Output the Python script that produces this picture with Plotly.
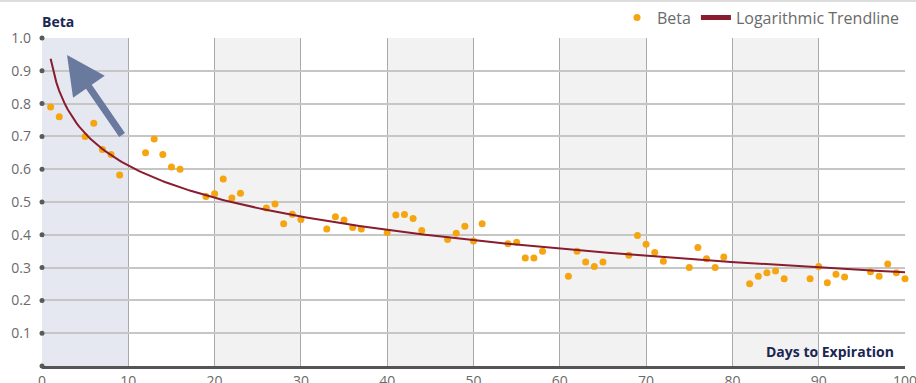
import numpy as np
import plotly.graph_objects as go

# Beta vs days to expiration
days = [1, 2, 5, 6, 7, 8, 9, 12, 13, 14, 15, 16, 19, 20, 21, 22, 23, 26, 27, 28, 29, 30,
        33, 34, 35, 36, 37, 40, 41, 42, 43, 44, 47, 48, 49, 50, 51, 54, 55, 56, 57, 58,
        61, 62, 63, 64, 65, 68, 69, 70, 71, 72, 75, 76, 77, 78, 79, 82, 83, 84, 85, 86,
        89, 90, 91, 92, 93, 96, 97, 98, 99, 100]
beta = [0.79, 0.76, 0.70, 0.74, 0.66, 0.645, 0.582, 0.65, 0.692, 0.645, 0.607, 0.60,
        0.517, 0.525, 0.57, 0.512, 0.527, 0.482, 0.494, 0.434, 0.463, 0.447,
        0.418, 0.455, 0.445, 0.422, 0.418, 0.407, 0.46, 0.462, 0.45, 0.413,
        0.386, 0.405, 0.426, 0.381, 0.434, 0.373, 0.377, 0.329, 0.329, 0.35,
        0.274, 0.35, 0.317, 0.303, 0.317, 0.338, 0.398, 0.371, 0.346, 0.319,
        0.30, 0.361, 0.327, 0.30, 0.332, 0.251, 0.274, 0.284, 0.29, 0.266,
        0.266, 0.303, 0.254, 0.28, 0.271, 0.287, 0.274, 0.311, 0.284, 0.266]

y_ticks = [0.1, 0.2, 0.3, 0.4, 0.5, 0.6, 0.7, 0.8, 0.9, 1.0]
x_ticks = [0, 10, 20, 30, 40, 50, 60, 70, 80, 90, 100]

# logarithmic trendline fitted to the data
b, a = np.polyfit(np.log(days), beta, 1)
trend_x = np.linspace(min(days), max(days), 300)
trend_y = a + b * np.log(trend_x)

NAVY = "#1b2653"
GREY_TXT = "#6a6a6a"
ORANGE = "#f5a50f"
MAROON = "#8a1c2f"
FONT = "Open Sans"

fig = go.Figure()

# dots on the y axis at each gridline
fig.add_trace(go.Scatter(x=[0] * (len(y_ticks) + 1), y=[0] + y_ticks, mode="markers",
                         marker=dict(size=5, color="#5a5a5a"), showlegend=False,
                         hoverinfo="skip", cliponaxis=False))

fig.add_trace(go.Scatter(x=days, y=beta, mode="markers", name="Beta",
                         marker=dict(size=7, color=ORANGE), cliponaxis=False))
fig.add_trace(go.Scatter(x=trend_x, y=trend_y, mode="lines", line=dict(color=MAROON, width=2),
                         showlegend=False, hoverinfo="skip"))
# legend-only entry with a thicker swatch
fig.add_trace(go.Scatter(x=[None], y=[None], mode="lines", name="Logarithmic Trendline",
                         line=dict(color=MAROON, width=5)))

# alternating background bands
for i, x0 in enumerate(x_ticks[:-1]):
    if i == 0:
        col = "#e5e8f0"
    elif i % 2 == 0:
        col = "#f2f2f2"
    else:
        continue
    fig.add_shape(type="rect", xref="x", yref="y", x0=x0, x1=x0 + 10, y0=0, y1=1.0,
                  fillcolor=col, line_width=0, layer="below")

# top border line
fig.add_shape(type="line", xref="paper", yref="paper", x0=-0.06, x1=1.02, y0=1.113, y1=1.113,
              line=dict(color="#dcdcdc", width=2))

# arrow
fig.add_annotation(x=2.9, y=0.948, ax=9.4, ay=0.70, xref="x", yref="y", axref="x", ayref="y",
                   text="", showarrow=True, arrowhead=2, arrowsize=1.1, arrowwidth=7,
                   arrowcolor="#6a7a9e")

fig.add_annotation(x=0, y=1.0, xref="x", yref="y", text="<b>Beta</b>", showarrow=False,
                   xanchor="left", yanchor="bottom", yshift=5, xshift=-2,
                   font=dict(family=FONT, size=14, color=NAVY))
fig.add_annotation(x=99, y=0, xref="x", yref="y", text="<b>Days to Expiration</b>", showarrow=False,
                   xanchor="right", yanchor="bottom", yshift=3,
                   font=dict(family=FONT, size=14, color=NAVY))
# last x tick label sits on the right edge (plotly drops it as a tick label)
fig.add_annotation(x=x_ticks[-1], y=0, xref="x", yref="y", text=str(x_ticks[-1]), showarrow=False,
                   xanchor="center", yanchor="top", yshift=-3,
                   font=dict(family=FONT, size=14, color=GREY_TXT))

fig.update_layout(
    width=916, height=383,
    margin=dict(l=42, r=11, t=38, b=17, autoexpand=False),
    plot_bgcolor="white", paper_bgcolor="white",
    font=dict(family=FONT, size=14, color=GREY_TXT),
    showlegend=True,
    legend=dict(orientation="h", x=1.0, xanchor="right", y=1.062, yanchor="middle",
                font=dict(size=16, color=GREY_TXT), bgcolor="rgba(0,0,0,0)",
                itemwidth=30, tracegroupgap=0),
    xaxis=dict(range=[0, 100], tickvals=x_ticks[:-1], showgrid=True, gridcolor="#a9a9a9", gridwidth=1,
               zeroline=False, showline=True, linecolor="#555555", linewidth=3,
               ticks="", tickfont=dict(size=14, color=GREY_TXT), fixedrange=True),
    yaxis=dict(range=[0, 1.0], tickvals=y_ticks, ticktext=[f"{v:.1f}" for v in y_ticks],
               showgrid=True, gridcolor="#c6c6c6", gridwidth=2, zeroline=False,
               showline=False, ticks="", ticklabelstandoff=10,
               tickfont=dict(size=14, color=GREY_TXT), fixedrange=True),
)

fig.write_html("out.html", config={"displayModeBar": False},
               post_script="document.body.style.margin='0';")
